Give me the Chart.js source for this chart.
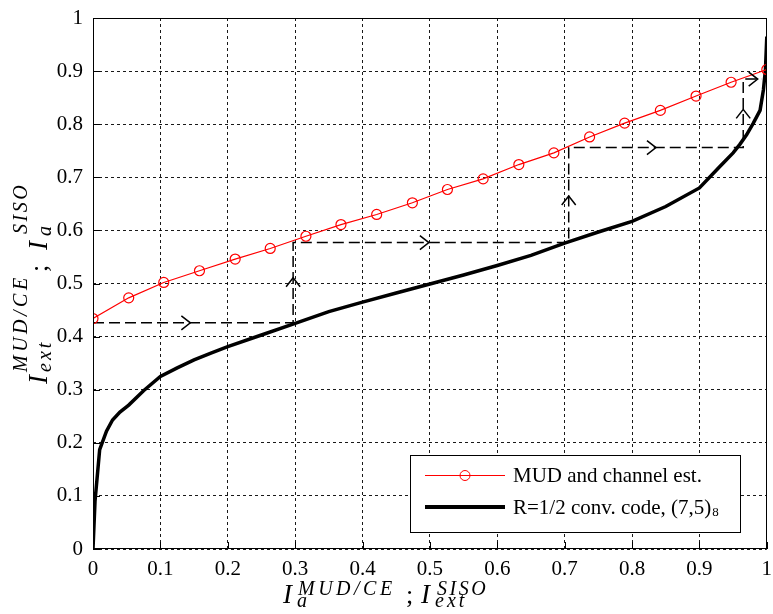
<!DOCTYPE html>
<html><head><meta charset="utf-8">
<script src="https://cdn.jsdelivr.net/npm/chart.js@4"></script>
<style>html,body{margin:0;padding:0;background:#fff}canvas{display:block}</style>
</head><body>
<canvas id="c" width="773" height="614"></canvas>
<script>
// ---- data ----
const tickValues = [0, 0.1, 0.2, 0.3, 0.4, 0.5, 0.6, 0.7, 0.8, 0.9, 1];
const tickLabels = ['0', '0.1', '0.2', '0.3', '0.4', '0.5', '0.6', '0.7', '0.8', '0.9', '1'];

const mudLabel = 'MUD and channel est.';
const mudX = [0, 0.053, 0.105, 0.158, 0.211, 0.263, 0.316, 0.368, 0.421, 0.474, 0.526, 0.579, 0.632, 0.684, 0.737, 0.789, 0.842, 0.895, 0.947, 1];
const mudY = [0.434, 0.473, 0.502, 0.524, 0.546, 0.566, 0.589, 0.611, 0.630, 0.652, 0.677, 0.697, 0.724, 0.746, 0.776, 0.802, 0.826, 0.853, 0.879, 0.903];

const codeLabel = 'R=1/2 conv. code, (7,5)';
const codeLabelSub = '8';
const codeX = [0, 0.003, 0.0099, 0.02, 0.029, 0.04, 0.053, 0.075, 0.1, 0.125, 0.15, 0.175, 0.2, 0.25, 0.3, 0.35, 0.4, 0.45, 0.5, 0.55, 0.6, 0.65, 0.7, 0.75, 0.8, 0.85, 0.9, 0.93, 0.95, 0.96, 0.97, 0.98, 0.99, 0.995, 0.998, 1.0];
const codeY = [0, 0.09, 0.187, 0.222, 0.243, 0.258, 0.271, 0.298, 0.325, 0.341, 0.356, 0.369, 0.381, 0.403, 0.425, 0.447, 0.465, 0.482, 0.499, 0.516, 0.534, 0.553, 0.576, 0.597, 0.617, 0.645, 0.68, 0.72, 0.746, 0.762, 0.78, 0.802, 0.826, 0.865, 0.903, 0.965];

const trajX = [0, 0.297, 0.297, 0.706, 0.706, 0.965, 0.965, 0.992];
const trajY = [0.426, 0.426, 0.577, 0.577, 0.756, 0.756, 0.885, 0.885];

const arrowX = [0.143, 0.297, 0.497, 0.706, 0.834, 0.965, 0.985];
const arrowY = [0.426, 0.509, 0.577, 0.663, 0.756, 0.826, 0.885];
const arrowDir = ['right', 'up', 'right', 'up', 'right', 'up', 'right'];

// ---- helpers ----
const pts = (xs, ys) => xs.map((x, i) => ({x: x, y: ys[i]}));
const SERIF = '"Liberation Serif", "Times New Roman", serif';

function drawPieces(ctx, pieces, start) {
  pieces.forEach(p => {
    ctx.font = p.f;
    ctx.letterSpacing = (p.ls || 0) + 'px';
    ctx.fillText(p.t, start + p.dx, p.b);
  });
  ctx.letterSpacing = '0px';
}

const mainF = 'italic 27px ' + SERIF;
const supF = 'italic 20px ' + SERIF;
const semiF = '26px ' + SERIF;

const zeroPad = s => { s.paddingLeft = 0; s.paddingRight = 0; s.paddingTop = 0; s.paddingBottom = 0; };

const decor = {
  id: 'decor',
  beforeDraw(chart) {
    const ctx = chart.ctx;
    ctx.save();
    ctx.fillStyle = '#fff';
    ctx.fillRect(0, 0, chart.width, chart.height);
    ctx.restore();
  },
  afterDatasetsDraw(chart) {
    const ctx = chart.ctx;
    const xs = chart.scales.x, ys = chart.scales.y;
    const a = chart.chartArea;
    ctx.save();
    // frame
    ctx.strokeStyle = '#000';
    ctx.lineWidth = 1;
    ctx.setLineDash([]);
    ctx.strokeRect(Math.round(a.left) + 0.5, Math.round(a.top) + 0.5, Math.round(a.right - a.left) - 1, Math.round(a.bottom - a.top) - 1);
    // inward tick marks
    ctx.beginPath();
    tickValues.forEach(v => {
      const px = Math.round(xs.getPixelForValue(v)) + 0.5;
      ctx.moveTo(px, a.bottom); ctx.lineTo(px, a.bottom - 7);
      const py = Math.round(ys.getPixelForValue(v)) + 0.5;
      ctx.moveTo(a.left, py); ctx.lineTo(a.left + 7, py);
    });
    ctx.stroke();
    // arrows (chevrons)
    ctx.lineWidth = 1.5;
    ctx.beginPath();
    arrowX.forEach((v, i) => {
      const px = xs.getPixelForValue(v), py = ys.getPixelForValue(arrowY[i]);
      if (arrowDir[i] === 'right') {
        ctx.moveTo(px - 8, py - 7); ctx.lineTo(px + 1, py); ctx.lineTo(px - 8, py + 7);
      } else {
        ctx.moveTo(px - 7, py + 8); ctx.lineTo(px, py - 1); ctx.lineTo(px + 7, py + 8);
      }
    });
    ctx.stroke();

    // legend
    ctx.fillStyle = '#fff';
    ctx.fillRect(410, 455, 330, 77);
    ctx.strokeStyle = '#000';
    ctx.lineWidth = 1;
    ctx.strokeRect(410.5, 455.5, 330, 77);
    const d0 = chart.data.datasets[0];
    ctx.strokeStyle = d0.borderColor; ctx.lineWidth = 1;
    ctx.beginPath(); ctx.moveTo(425, 475.5); ctx.lineTo(505, 475.5); ctx.stroke();
    ctx.beginPath(); ctx.arc(465, 475.5, 5, 0, Math.PI * 2); ctx.stroke();
    ctx.fillStyle = '#000';
    ctx.font = '21px ' + SERIF;
    ctx.textBaseline = 'alphabetic';
    ctx.fillText(d0.label, 513, 482);
    const d1 = chart.data.datasets[1];
    ctx.strokeStyle = '#000'; ctx.lineWidth = 4;
    ctx.beginPath(); ctx.moveTo(425, 507); ctx.lineTo(505, 507); ctx.stroke();
    ctx.font = '21px ' + SERIF;
    ctx.fillText(d1.label, 513, 514);
    const w = ctx.measureText(d1.label).width;
    ctx.font = '13px ' + SERIF;
    ctx.fillText(codeLabelSub, 513 + w + 1, 516);

    // x axis label
    ctx.fillStyle = '#000';
    drawPieces(ctx, [
      {t: 'I', f: mainF, dx: 0, b: 603},
      {t: 'MUD/CE', f: supF, dx: 15, b: 595, ls: 3.5},
      {t: 'a', f: supF, dx: 14, b: 607},
      {t: ';', f: semiF, dx: 123, b: 603},
      {t: 'I', f: mainF, dx: 138, b: 603},
      {t: 'SISO', f: supF, dx: 154, b: 595, ls: 2.5},
      {t: 'ext', f: supF, dx: 152, b: 607, ls: 3}
    ], 283);
    // y axis label (rotated)
    ctx.save();
    ctx.rotate(-Math.PI / 2);
    drawPieces(ctx, [
      {t: 'I', f: mainF, dx: 0, b: 47},
      {t: 'MUD/CE', f: supF, dx: 12, b: 27, ls: 3.5},
      {t: 'ext', f: supF, dx: 12, b: 51, ls: 3},
      {t: ';', f: semiF, dx: 112, b: 47},
      {t: 'I', f: mainF, dx: 134, b: 47},
      {t: 'SISO', f: supF, dx: 150, b: 27, ls: 2.5},
      {t: 'a', f: supF, dx: 148, b: 51}
    ], -384);
    ctx.restore();
    ctx.restore();
  }
};

const tickCb = v => {
  const i = tickValues.findIndex(t => Math.abs(t - v) < 1e-6);
  return i >= 0 ? tickLabels[i] : '';
};

new Chart(document.getElementById('c'), {
  type: 'line',
  data: {
    datasets: [
      {
        label: mudLabel,
        data: pts(mudX, mudY),
        borderColor: 'rgb(255,0,0)',
        borderWidth: 1.2,
        pointRadius: 5,
        pointStyle: 'circle',
        pointBorderColor: 'rgb(255,0,0)',
        pointBackgroundColor: 'rgba(0,0,0,0)',
        pointBorderWidth: 1.2,
        tension: 0,
        clip: 0
      },
      {
        label: codeLabel,
        data: pts(codeX, codeY),
        borderColor: '#000',
        borderWidth: 3.5,
        pointRadius: 0,
        tension: 0,
        clip: 0
      },
      {
        label: 'trajectory',
        data: pts(trajX, trajY),
        borderColor: '#000',
        borderWidth: 1.5,
        borderDash: [11, 5],
        pointRadius: 0,
        tension: 0,
        clip: 0
      }
    ]
  },
  options: {
    responsive: false,
    animation: false,
    devicePixelRatio: 1,
    layout: {padding: {top: 18, right: 6, left: 0, bottom: 0}},
    plugins: {legend: {display: false}, tooltip: {enabled: false}},
    scales: {
      x: {
        type: 'linear', min: 0, max: 1,
        afterFit: s => { s.height = 65; zeroPad(s); },
        afterBuildTicks: s => { s.ticks = tickValues.map(v => ({value: v})); },
        grid: {color: 'rgba(0,0,0,0.9)', lineWidth: 1, drawTicks: false},
        border: {display: false, dash: [3, 3]},
        ticks: {callback: tickCb, color: '#000', font: {family: SERIF, size: 21}, padding: 8, maxRotation: 0, autoSkip: false}
      },
      y: {
        type: 'linear', min: 0, max: 1,
        afterFit: s => { s.width = 93; zeroPad(s); },
        afterBuildTicks: s => { s.ticks = tickValues.map(v => ({value: v})); },
        grid: {color: 'rgba(0,0,0,0.9)', lineWidth: 1, drawTicks: false},
        border: {display: false, dash: [3, 3]},
        ticks: {callback: tickCb, color: '#000', font: {family: SERIF, size: 21}, padding: 10, autoSkip: false}
      }
    }
  },
  plugins: [decor]
});
</script>
</body></html>
